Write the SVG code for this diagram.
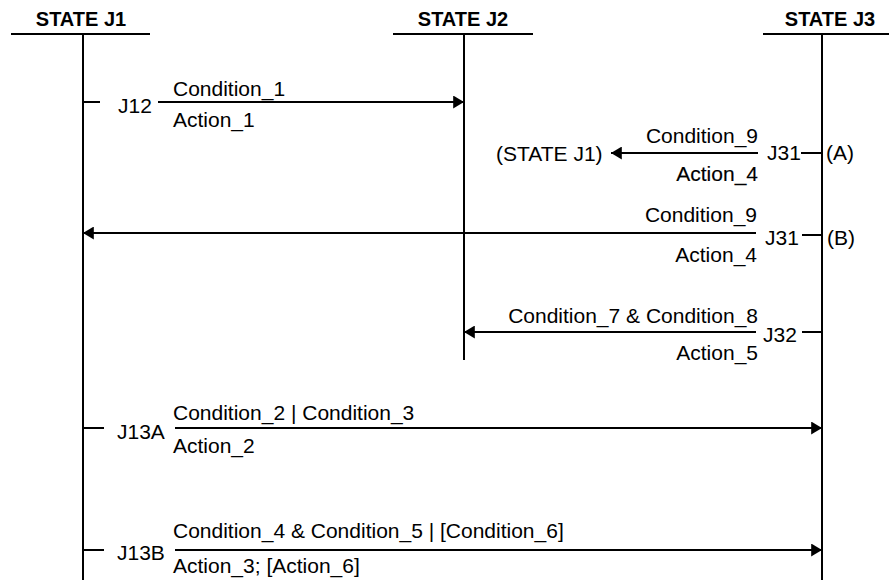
<svg xmlns="http://www.w3.org/2000/svg" width="889" height="580" viewBox="0 0 889 580">
  <style>
    .hdr { font-family: "Liberation Sans", Arial, sans-serif; font-size: 20px; font-weight: bold; fill: #000; text-anchor: middle; }
    .lbl { font-family: "Liberation Sans", Arial, sans-serif; font-size: 21px; fill: #000; }
    .end { text-anchor: end; }
    .ln { stroke: #000; stroke-width: 2; fill: none; }
  </style>
  <defs>
    <marker id="head" viewBox="0 0 10 12" markerUnits="userSpaceOnUse" markerWidth="11" markerHeight="13" refX="10" refY="6" orient="auto">
      <path d="M0,0 L10,6 L0,12 z" fill="#000"/>
    </marker>
  </defs>
  <rect width="889" height="580" fill="#fff"/>

  <!-- states with their lifelines -->
  <g id="state-j1">
    <text class="hdr" x="81" y="26">STATE J1</text>
    <line class="ln" x1="11" y1="34" x2="150" y2="34"/>
    <line class="ln" x1="83" y1="34" x2="83" y2="580"/>
  </g>
  <g id="state-j2">
    <text class="hdr" x="463" y="26">STATE J2</text>
    <line class="ln" x1="393" y1="34" x2="533" y2="34"/>
    <line class="ln" x1="464" y1="34" x2="464" y2="360"/>
  </g>
  <g id="state-j3">
    <text class="hdr" x="830" y="26">STATE J3</text>
    <line class="ln" x1="763" y1="34" x2="889" y2="34"/>
    <line class="ln" x1="822" y1="34" x2="822" y2="580"/>
  </g>

  <!-- transitions -->
  <g id="connectors">
    <!-- J12 -->
    <line class="ln" x1="83" y1="102" x2="100" y2="102"/>
    <line class="ln" x1="158" y1="102" x2="464" y2="102" marker-end="url(#head)"/>
    <!-- J31 (A) -->
    <line class="ln" x1="801" y1="153" x2="822" y2="153"/>
    <line class="ln" x1="758" y1="153" x2="611" y2="153" marker-end="url(#head)"/>
    <!-- J31 (B) -->
    <line class="ln" x1="802" y1="235" x2="822" y2="235"/>
    <line class="ln" x1="756" y1="233" x2="83" y2="233" marker-end="url(#head)"/>
    <!-- J32 -->
    <line class="ln" x1="802" y1="332" x2="822" y2="332"/>
    <line class="ln" x1="756" y1="332" x2="464" y2="332" marker-end="url(#head)"/>
    <!-- J13A -->
    <line class="ln" x1="83" y1="428" x2="104" y2="428"/>
    <line class="ln" x1="175" y1="428" x2="822" y2="428" marker-end="url(#head)"/>
    <!-- J13B -->
    <line class="ln" x1="83" y1="550" x2="104" y2="550"/>
    <line class="ln" x1="175" y1="550" x2="822" y2="550" marker-end="url(#head)"/>
  </g>

  <g id="j12">
    <text class="lbl" x="118" y="113">J12</text>
    <text class="lbl" x="173" y="96">Condition_1</text>
    <text class="lbl" x="173" y="127">Action_1</text>
  </g>
  <g id="j31-a">
    <text class="lbl" x="496" y="161">(STATE J1)</text>
    <text class="lbl end" x="758" y="143">Condition_9</text>
    <text class="lbl end" x="758" y="181" stroke="#000" stroke-width="0.15">Action_4</text>
    <text class="lbl" x="767" y="160">J31</text>
    <text class="lbl" x="826" y="160">(A)</text>
  </g>
  <g id="j31-b">
    <text class="lbl end" x="757" y="222">Condition_9</text>
    <text class="lbl end" x="757" y="262">Action_4</text>
    <text class="lbl" x="765" y="245">J31</text>
    <text class="lbl" x="827" y="245">(B)</text>
  </g>
  <g id="j32">
    <text class="lbl end" x="758" y="323">Condition_7 &amp; Condition_8</text>
    <text class="lbl end" x="758" y="360">Action_5</text>
    <text class="lbl" x="763" y="342">J32</text>
  </g>
  <g id="j13a">
    <text class="lbl" x="117" y="439">J13A</text>
    <text class="lbl" x="173" y="420">Condition_2 | Condition_3</text>
    <text class="lbl" x="173" y="453">Action_2</text>
  </g>
  <g id="j13b">
    <text class="lbl" x="117" y="560">J13B</text>
    <text class="lbl" x="173" y="538">Condition_4 &amp; Condition_5 | [Condition_6]</text>
    <text class="lbl" x="173" y="573">Action_3; [Action_6]</text>
  </g>
</svg>
